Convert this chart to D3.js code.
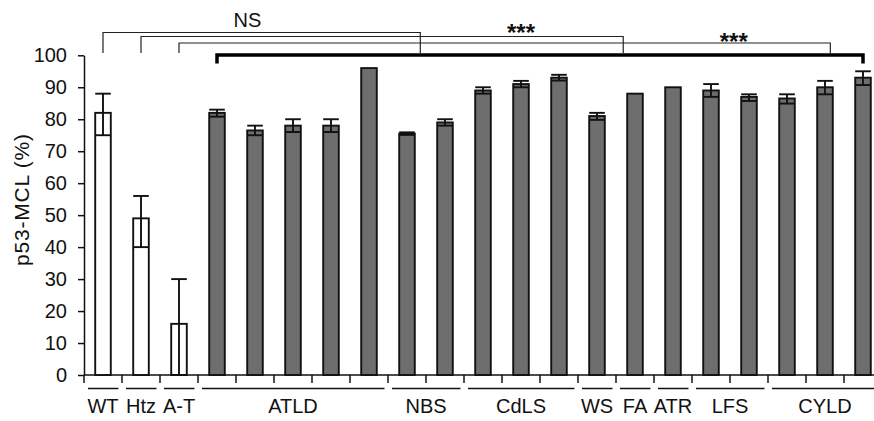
<!DOCTYPE html>
<html>
<head>
<meta charset="utf-8">
<script src="https://cdn.jsdelivr.net/npm/d3@7"></script>
<style>
  body { margin: 0; background: #fff; }
  svg { display: block; font-family: "Liberation Sans", Arial, Helvetica, sans-serif; }
</style>
</head>
<body>
<svg id="chart" width="874" height="421"></svg>
<script>
// groups along the x axis and how many bars each one has
var groups = ["WT", "Htz", "A-T", "ATLD", "NBS", "CdLS", "WS", "FA", "ATR", "LFS", "CYLD"];
var groupSizes = [1, 1, 1, 5, 2, 3, 1, 1, 1, 2, 3];
var controlGroups = ["WT", "Htz", "A-T"];

// p53-MCL (%) per bar, upper / lower error
var values  = [82, 49, 16, 82, 76.5, 78, 78, 96, 75.5, 79, 89, 91, 93, 81, 88, 90, 89, 87, 86.5, 90, 93];
var errUp   = [6, 7, 14, 1, 1.5, 2, 2, 0, 0.4, 1, 1, 1, 0.9, 1, 0, 0, 2, 0.8, 1.3, 2, 2];
var errDown = [7, 9, 16, 1.2, 1.5, 2, 2, 0, 0.4, 1, 1, 1, 0.9, 1.2, 0, 0, 2, 1.3, 1.6, 2.2, 2.3];

var yTicks = [0, 10, 20, 30, 40, 50, 60, 70, 80, 90, 100];

// significance brackets (bar index where they start / end)
var bracketStart = [0, 1, 2];
var bracketEnd = [8.35, 13.69, 19.14];
var sigLabels = ["NS", "***", "***"];
var sigLabelAt = [3.8, 11.0, 16.6];
var patientRange = [3, 20];

// build the bar list
var bars = [];
groups.forEach(function (g, gi) {
    for (var k = 0; k < groupSizes[gi]; k++) {
        bars.push({ key: g + "-" + k, group: g });
    }
});
bars.forEach(function (b, i) {
    b.value = values[i];
    b.up = errUp[i];
    b.down = errDown[i];
});

var svg = d3.select("#chart");
var axisX = 84, baseY = 375;

var x = d3.scaleBand()
    .domain(bars.map(function (d) { return d.key; }))
    .range([axisX, axisX + 21 * 38])
    .paddingInner(0.59)
    .paddingOuter(0.295);

var y = d3.scaleLinear().domain([0, 100]).range([baseY, 55.3]);

// bar index -> centre x
var idx = d3.scaleLinear()
    .domain([0, bars.length - 1])
    .range([x(bars[0].key) + x.bandwidth() / 2, x(bars[bars.length - 1].key) + x.bandwidth() / 2]);

// y axis
var yAxis = svg.append("g")
    .attr("transform", "translate(" + axisX + ",0)")
    .call(d3.axisLeft(y).tickValues(yTicks).tickSize(6).tickPadding(11).tickSizeOuter(0));
yAxis.selectAll("path, line").attr("stroke", "#111").attr("stroke-width", 1.5);
yAxis.selectAll("text").attr("font-size", 20).attr("fill", "#111")
    .style("font-family", "\"Liberation Sans\", Arial, sans-serif");

svg.append("text")
    .attr("transform", "translate(29," + 200 + ") rotate(-90)")
    .attr("text-anchor", "middle")
    .attr("font-size", 21)
    .attr("textLength", 132)
    .attr("fill", "#111")
    .text("p53-MCL (%)");

// x axis line and ticks at band edges
svg.append("line")
    .attr("x1", axisX).attr("x2", 874)
    .attr("y1", baseY).attr("y2", baseY)
    .attr("stroke", "#111").attr("stroke-width", 1.5);

var edges = d3.range(bars.length + 1).map(function (i) { return axisX + i * x.step(); });
svg.append("g").selectAll("line")
    .data(edges)
    .join("line")
    .attr("x1", function (d) { return d; })
    .attr("x2", function (d) { return d; })
    .attr("y1", baseY)
    .attr("y2", baseY + 8)
    .attr("stroke", "#111")
    .attr("stroke-width", 1.5);

// group underlines and names
var groupSpans = [];
var start = 0;
groups.forEach(function (g, gi) {
    groupSpans.push({ name: g, from: start, to: start + groupSizes[gi] });
    start += groupSizes[gi];
});

svg.append("g").selectAll("line")
    .data(groupSpans)
    .join("line")
    .attr("x1", function (d) { return axisX + d.from * x.step() + 4; })
    .attr("x2", function (d) { return axisX + d.to * x.step() - 3.5; })
    .attr("y1", 388.5)
    .attr("y2", 388.5)
    .attr("stroke", "#111")
    .attr("stroke-width", 1.5);

svg.append("g").selectAll("text")
    .data(groupSpans)
    .join("text")
    .attr("x", function (d) { return axisX + (d.from + d.to) / 2 * x.step(); })
    .attr("y", 413)
    .attr("text-anchor", "middle")
    .attr("font-size", 20)
    .attr("fill", "#111")
    .text(function (d) { return d.name; });

// bars
svg.append("g").selectAll("rect")
    .data(bars)
    .join("rect")
    .attr("x", function (d) { return x(d.key); })
    .attr("width", x.bandwidth())
    .attr("y", function (d) { return y(d.value); })
    .attr("height", function (d) { return baseY - y(d.value); })
    .attr("fill", function (d) { return controlGroups.indexOf(d.group) >= 0 ? "#fff" : "#6e6e6e"; })
    .attr("stroke", "#111")
    .attr("stroke-width", 1.9);

// error bars
var errBars = bars.filter(function (d) { return d.up > 0; });
var eg = svg.append("g").attr("stroke", "#111").attr("stroke-width", 1.9);
eg.selectAll(".stem")
    .data(errBars)
    .join("line")
    .attr("class", "stem")
    .attr("x1", function (d) { return x(d.key) + x.bandwidth() / 2; })
    .attr("x2", function (d) { return x(d.key) + x.bandwidth() / 2; })
    .attr("y1", function (d) { return y(d.value + d.up); })
    .attr("y2", function (d) { return y(d.value - d.down); });
eg.selectAll(".capTop")
    .data(errBars)
    .join("line")
    .attr("class", "capTop")
    .attr("x1", function (d) { return x(d.key); })
    .attr("x2", function (d) { return x(d.key) + x.bandwidth(); })
    .attr("y1", function (d) { return y(d.value + d.up); })
    .attr("y2", function (d) { return y(d.value + d.up); });
eg.selectAll(".capBottom")
    .data(errBars)
    .join("line")
    .attr("class", "capBottom")
    .attr("x1", function (d) { return x(d.key); })
    .attr("x2", function (d) { return x(d.key) + x.bandwidth(); })
    .attr("y1", function (d) { return y(d.value - d.down); })
    .attr("y2", function (d) { return y(d.value - d.down); });

// significance brackets
var bracketTop = [32.5, 36.5, 43];
var bracketFoot = 53;
var bg = svg.append("g");
bracketStart.forEach(function (s, i) {
    var x1 = idx(s), x2 = idx(bracketEnd[i]);
    bg.append("path")
        .attr("d", "M" + x1 + "," + bracketFoot + "V" + bracketTop[i] + "H" + x2 + "V" + bracketFoot)
        .attr("fill", "none")
        .attr("stroke", "#222")
        .attr("stroke-width", 1.2);
});

bg.append("path")
    .attr("d", "M" + idx(patientRange[0]) + ",63.5V55H" + idx(patientRange[1]) + "V63.5")
    .attr("fill", "none")
    .attr("stroke", "#000")
    .attr("stroke-width", 3.5);

var labelY = [26.5, 40.5, 49.5];
bg.selectAll("text")
    .data(sigLabels)
    .join("text")
    .attr("x", function (d, i) { return idx(sigLabelAt[i]); })
    .attr("y", function (d, i) { return labelY[i]; })
    .attr("text-anchor", "middle")
    .attr("font-size", function (d) { return d === "NS" ? 20 : 24; })
    .attr("font-weight", function (d) { return d === "NS" ? "normal" : "bold"; })
    .attr("fill", "#111")
    .text(function (d) { return d; });
</script>
</body>
</html>
